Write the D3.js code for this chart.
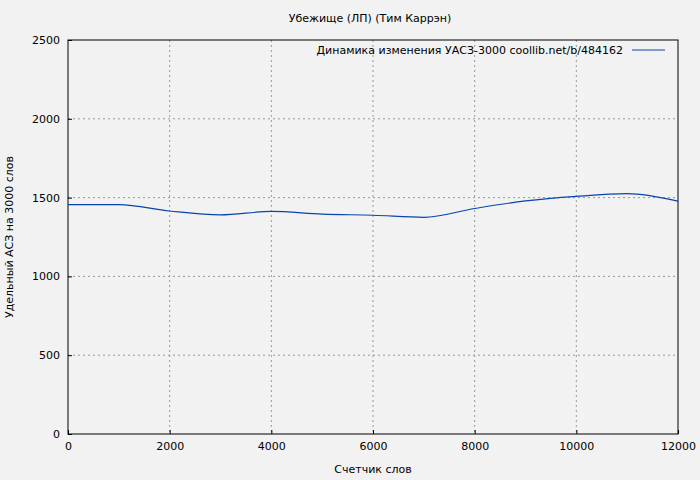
<html>
<head><title>Chart</title>
<script src="https://d3js.org/d3.v7.min.js"></script>
<style>body{margin:0;background:#f2f2f2}text{font-family:"DejaVu Sans",sans-serif;font-size:11px;fill:#000}</style>
</head>
<body>
<script>
var words = [0,1000,2000,3000,4000,5000,6000,7000,8000,9000,10000,11000,12000];
var uas = [1456,1456,1415,1390,1412,1395,1388,1375,1431,1479,1508,1525,1478];
var xTicks = [0,2000,4000,6000,8000,10000,12000];
var yTicks = [0,500,1000,1500,2000,2500];

var w = 700, h = 480, m = {l:68, r:22, t:40, b:46};
var svg = d3.select('body').append('svg').attr('width', w).attr('height', h);
svg.append('rect').attr('width', w).attr('height', h).attr('fill', '#f2f2f2');

var x = d3.scaleLinear().domain([0,12000]).range([m.l, w-m.r]);
var y = d3.scaleLinear().domain([0,2500]).range([h-m.b, m.t]);

// grid
svg.selectAll('.gx').data(xTicks.slice(1,-1)).enter().append('line')
   .attr('x1', d=>x(d)).attr('x2', d=>x(d)).attr('y1', m.t).attr('y2', h-m.b)
   .attr('stroke', '#999').attr('stroke-dasharray', '2,3');
svg.selectAll('.gy').data(yTicks.slice(1,-1)).enter().append('line')
   .attr('y1', d=>y(d)).attr('y2', d=>y(d)).attr('x1', m.l).attr('x2', w-m.r)
   .attr('stroke', '#999').attr('stroke-dasharray', '2,3');

svg.append('rect').attr('x', m.l).attr('y', m.t).attr('width', w-m.l-m.r).attr('height', h-m.t-m.b)
   .attr('fill', 'none').attr('stroke', '#000');

var gx = svg.append('g').attr('transform', 'translate(0,' + (h-m.b) + ')')
   .call(d3.axisBottom(x).tickValues(xTicks).tickSize(-4).tickPadding(8).tickFormat(d3.format('d')));
var gy = svg.append('g').attr('transform', 'translate(' + m.l + ',0)')
   .call(d3.axisLeft(y).tickValues(yTicks).tickSize(-4).tickPadding(8).tickFormat(d3.format('d')));
[gx, gy].forEach(g => { g.select('.domain').remove(); g.selectAll('text').style('font-size','11px').style('font-family','DejaVu Sans'); });

svg.append('path').datum(words.map((d,i)=>[d, uas[i]]))
   .attr('d', d3.line().x(d=>x(d[0])).y(d=>y(d[1])).curve(d3.curveMonotoneX))
   .attr('fill', 'none').attr('stroke', '#0645ad').attr('stroke-width', 1.2);

svg.append('text').attr('x', 370).attr('y', 22).attr('text-anchor', 'middle').text('Убежище (ЛП) (Тим Каррэн)');
svg.append('text').attr('x', 373).attr('y', 473).attr('text-anchor', 'middle').text('Счетчик слов');
svg.append('text').attr('transform', 'translate(13,237) rotate(-90)').attr('text-anchor', 'middle').text('Удельный АСЗ на 3000 слов');
svg.append('text').attr('x', 623).attr('y', 54).attr('text-anchor', 'end').text('Динамика изменения УАСЗ-3000  coollib.net/b/484162');
svg.append('line').attr('x1', 632).attr('x2', 665).attr('y1', 50).attr('y2', 50).attr('stroke', '#0645ad').attr('stroke-width', 1.2);
</script>
</body>
</html>
